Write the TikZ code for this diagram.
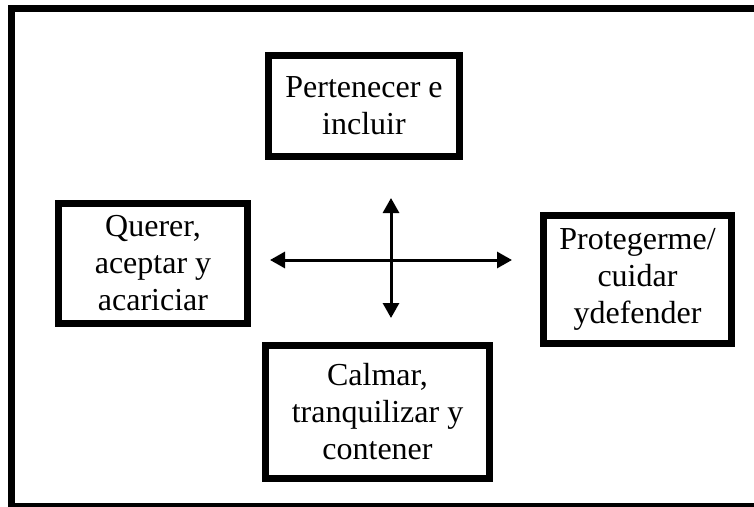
\documentclass[tikz,border=0pt]{standalone}
\usepackage{fontspec}
\setmainfont{Liberation Serif}
\usetikzlibrary{arrows.meta, positioning}

\tikzset{
	caja/.style={draw, line width=7pt, align=center, inner sep=0pt, font=\fontsize{32}{37}\selectfont},
	flecha/.style={line width=3pt, {Triangle[length=15pt, width=16pt]}-{Triangle[length=15pt, width=16pt]}}
}

\begin{document}
\begin{tikzpicture}[x=1pt, y=-1pt]
		\useasboundingbox (0,0) rectangle (754,506);
		\clip (0,0) rectangle (754,506);
		\draw[line width=7pt] (11.5,8.5) rectangle (770,506.5);
		\node[caja, minimum width=191pt, minimum height=101pt] (pertenecer) at (364,106) {Pertenecer e\\incluir};
		\node[caja, minimum width=189pt, minimum height=120pt] (querer) at (153,263.5) {Querer,\\aceptar y\\acariciar};
		\node[caja, minimum width=188pt, minimum height=128pt] (proteger) at (637.5,279.5) {Protegerme/\\cuidar\\ydefender};
		\node[caja, minimum width=224pt, minimum height=133pt] (calmar) at (377.5,412) {Calmar,\\tranquilizar y\\contener};
		\coordinate (izq) at (270,260);
		\coordinate (der) at (512,260);
		\coordinate (arr) at (391,198);
		\coordinate (abj) at (391,318);
		\draw[flecha] (izq) -- (der);
		\draw[flecha] (arr) -- (abj);
	\end{tikzpicture}
\end{document}
